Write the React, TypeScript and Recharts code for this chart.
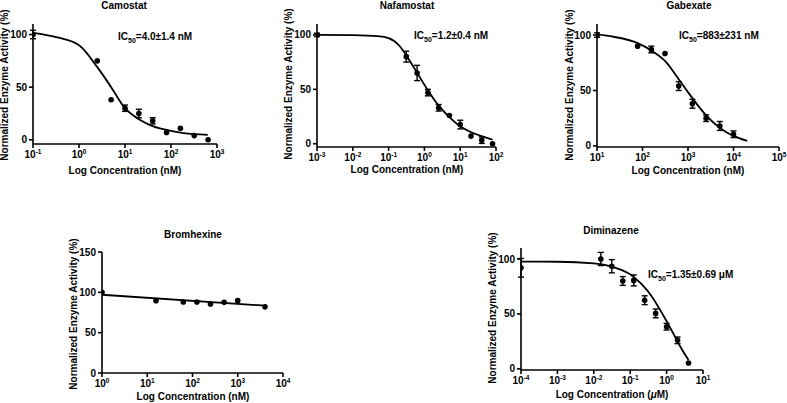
import { ComposedChart, ErrorBar, Line, Scatter, XAxis, YAxis } from 'recharts'

const W = 787
const H = 403
const FONT = "'Liberation Sans', Arial, Helvetica, sans-serif"
const Y_AXIS_W = 30
const X_AXIS_H = 30

// Camostat (nM)
const camoConc = [0.1, 2.5, 5, 10, 20, 40, 80, 160, 320, 640]
const camoAct = [100, 75, 38, 30, 25, 18, 7, 11, 4, 0]
const camoErr = [4, 0, 0, 3, 4, 3, 0, 0, 0, 0]
const camoFitConc = [0.1, 0.32, 1.02, 2.5, 5, 10, 21, 35, 79, 186, 630]
const camoFitAct = [101.6, 97.5, 89.6, 69, 50, 30, 19, 14, 9.4, 6.3, 4.7]

// Nafamostat (nM)
const nafaConc = [0.001, 0.3125, 0.625, 1.25, 2.5, 5, 10, 20, 40, 80]
const nafaAct = [100, 80, 65, 47, 33, 26, 17.6, 7, 3.3, 0]
const nafaErr = [1.5, 5, 7, 3, 3, 0, 4, 0, 3, 0]
const nafaFitConc = [0.001, 0.01, 0.05, 0.1, 0.2, 0.33, 0.63, 1.26, 2.5, 5, 10, 20, 40, 80]
const nafaFitAct = [100, 99.7, 98.8, 97, 90, 80, 65, 49, 35, 24.5, 16, 10.6, 7, 3.8]

// Gabexate (nM)
const gabeConc = [10, 78, 156, 312, 625, 1250, 2500, 5000, 10000]
const gabeAct = [100, 90, 87, 83.4, 54, 38, 25, 18, 10.5]
const gabeErr = [2, 0, 3, 0, 4, 4, 3, 4, 3]
const gabeFitConc = [10, 23, 76, 158, 316, 630, 1000, 1585, 2510, 4000, 6300, 10000, 20000]
const gabeFitAct = [100.6, 98.5, 93, 86, 76.5, 60, 48.5, 37.5, 27.5, 19.5, 13.5, 9, 4.5]

// Bromhexine (nM)
const bromConc = [1, 15.6, 62.5, 125, 250, 500, 1000, 4000]
const bromAct = [100, 89.7, 88, 88, 85.5, 87.6, 89.7, 82]
const bromErr = [0, 0, 0, 0, 0, 0, 0, 0]
const bromFitConc = [1, 4000]
const bromFitAct = [97, 83.5]

// Diminazene (uM)
const dimiConc = [0.0001, 0.0156, 0.03125, 0.0625, 0.125, 0.25, 0.5, 1, 2, 4]
const dimiAct = [92, 100, 93.4, 80, 80.5, 62.5, 50.5, 38.4, 26, 5.4]
const dimiErr = [8.5, 6, 6, 4, 5, 4, 4, 3, 3, 0]
const dimiFitConc = [0.0001, 0.001, 0.01, 0.0316, 0.1, 0.2, 0.4, 0.8, 1.6, 2.5, 4]
const dimiFitAct = [97.6, 97.5, 96, 93, 86, 77.5, 65.5, 49, 31, 19, 8]

type Pt = { x: number; y: number; err: number }

const zip = (xs: number[], ys: number[], es?: number[]): Pt[] =>
  xs.map((x, i) => ({ x, y: ys[i], err: es ? es[i] : 0 }))

const txt = { fontFamily: FONT, fontWeight: 'bold' as const, fill: '#000' }

function LogTick(props: any) {
  const { x, y, payload } = props
  const exp = Math.round(Math.log10(payload.value))
  return (
    <text x={x} y={y} dy={8} textAnchor="middle" fontSize={10} {...txt}>
      <tspan>10</tspan>
      <tspan dy={-4} fontSize={6.5}>{exp}</tspan>
    </text>
  )
}

const Dot = (p: any) => <circle cx={p.cx} cy={p.cy} r={2.8} fill="#000" />

interface PanelProps {
  box: { left: number; right: number; top: number; bottom: number }
  xDomain: [number, number]
  xTicks: number[]
  yDomain: [number, number]
  yTicks: number[]
  points: Pt[]
  fit: Pt[]
  fitType: 'monotone' | 'linear'
  title: string
  titlePos: [number, number]
  xLabelPos: [number, number]
  micro?: boolean
  yLabelPos: [number, number]
  ic50?: { x: number; y: number; value: string }
}

function Panel(p: PanelProps) {
  const { box } = p
  const axisStyle = { stroke: '#000', strokeWidth: 1.6 }
  return (
    <div style={{ position: 'absolute', left: 0, top: 0 }}>
      <ComposedChart
        width={W}
        height={H}
        margin={{
          top: box.top,
          left: box.left - Y_AXIS_W,
          right: W - box.right,
          bottom: H - box.bottom - X_AXIS_H,
        }}
      >
        <XAxis
          type="number"
          dataKey="x"
          scale="log"
          domain={p.xDomain}
          ticks={p.xTicks}
          interval={0}
          allowDataOverflow
          height={X_AXIS_H}
          tickSize={4}
          tickMargin={2}
          axisLine={axisStyle}
          tickLine={axisStyle}
          tick={<LogTick />}
        />
        <YAxis
          type="number"
          dataKey="y"
          domain={p.yDomain}
          ticks={p.yTicks}
          interval={0}
          allowDataOverflow
          width={Y_AXIS_W}
          tickSize={4}
          tickMargin={2}
          axisLine={axisStyle}
          tickLine={axisStyle}
          tick={{ fontSize: 10, ...txt }}
        />
        <Line
          data={p.fit}
          dataKey="y"
          type={p.fitType}
          stroke="#000"
          strokeWidth={1.8}
          dot={false}
          isAnimationActive={false}
        />
        <Scatter data={p.points} dataKey="y" fill="#000" shape={Dot} isAnimationActive={false}>
          <ErrorBar dataKey="err" direction="y" width={3} stroke="#000" strokeWidth={1.4} />
        </Scatter>
        <text x={p.titlePos[0]} y={p.titlePos[1]} textAnchor="middle" fontSize={10} {...txt}>
          {p.title}
        </text>
        <text x={p.xLabelPos[0]} y={p.xLabelPos[1]} textAnchor="middle" fontSize={10} {...txt}>
          Log Concentration (
          {p.micro ? <tspan fontStyle="italic">μ</tspan> : 'n'}
          M)
        </text>
        <text
          x={p.yLabelPos[0]}
          y={p.yLabelPos[1]}
          transform={`rotate(-90 ${p.yLabelPos[0]} ${p.yLabelPos[1]})`}
          textAnchor="middle"
          fontSize={10}
          {...txt}
        >
          Normalized Enzyme Activity (%)
        </text>
        {p.ic50 && (
          <text x={p.ic50.x} y={p.ic50.y} fontSize={10} {...txt}>
            IC
            <tspan dy={3} fontSize={7}>50</tspan>
            <tspan dy={-3}>{p.ic50.value}</tspan>
          </text>
        )}
      </ComposedChart>
    </div>
  )
}

export default function App() {
  return (
    <div style={{ position: 'absolute', left: 0, top: 0, width: W, height: H, background: '#fff', overflow: 'hidden' }}>
      <Panel
        box={{ left: 33, right: 217, top: 24, bottom: 144 }}
        xDomain={[0.1, 1000]}
        xTicks={[0.1, 1, 10, 100, 1000]}
        yDomain={[-4, 110]}
        yTicks={[0, 50, 100]}
        points={zip(camoConc, camoAct, camoErr)}
        fit={zip(camoFitConc, camoFitAct)}
        fitType="monotone"
        title="Camostat"
        titlePos={[124, 9]}
        xLabelPos={[125, 173.5]}
        yLabelPos={[8, 85]}
        ic50={{ x: 118, y: 39.5, value: '=4.0±1.4 nM' }}
      />
      <Panel
        box={{ left: 317, right: 496, top: 24, bottom: 147 }}
        xDomain={[0.001, 100]}
        xTicks={[0.001, 0.01, 0.1, 1, 10, 100]}
        yDomain={[-3, 110]}
        yTicks={[0, 50, 100]}
        points={zip(nafaConc, nafaAct, nafaErr)}
        fit={zip(nafaFitConc, nafaFitAct)}
        fitType="monotone"
        title="Nafamostat"
        titlePos={[407, 9]}
        xLabelPos={[407, 173]}
        yLabelPos={[292, 84]}
        ic50={{ x: 414, y: 39.3, value: '=1.2±0.4 nM' }}
      />
      <Panel
        box={{ left: 597, right: 779, top: 24, bottom: 147 }}
        xDomain={[10, 100000]}
        xTicks={[10, 100, 1000, 10000, 100000]}
        yDomain={[-1, 110]}
        yTicks={[0, 50, 100]}
        points={zip(gabeConc, gabeAct, gabeErr)}
        fit={zip(gabeFitConc, gabeFitAct)}
        fitType="monotone"
        title="Gabexate"
        titlePos={[689, 9]}
        xLabelPos={[688, 174]}
        yLabelPos={[573, 85]}
        ic50={{ x: 679, y: 39, value: '=883±231 nM' }}
      />
      <Panel
        box={{ left: 102, right: 283, top: 252, bottom: 373 }}
        xDomain={[1, 10000]}
        xTicks={[1, 10, 100, 1000, 10000]}
        yDomain={[0, 150]}
        yTicks={[0, 50, 100, 150]}
        points={zip(bromConc, bromAct, bromErr)}
        fit={zip(bromFitConc, bromFitAct)}
        fitType="linear"
        title="Bromhexine"
        titlePos={[193, 238]}
        xLabelPos={[193, 400]}
        yLabelPos={[77, 314]}
      />
      <Panel
        box={{ left: 521, right: 703, top: 248, bottom: 370 }}
        xDomain={[0.0001, 10]}
        xTicks={[0.0001, 0.001, 0.01, 0.1, 1, 10]}
        yDomain={[-1, 110]}
        yTicks={[0, 50, 100]}
        points={zip(dimiConc, dimiAct, dimiErr)}
        fit={zip(dimiFitConc, dimiFitAct)}
        fitType="monotone"
        title="Diminazene"
        titlePos={[611, 233.5]}
        xLabelPos={[612, 398]}
        micro
        yLabelPos={[496, 308]}
        ic50={{ x: 648, y: 278, value: '=1.35±0.69 μM' }}
      />
    </div>
  )
}
